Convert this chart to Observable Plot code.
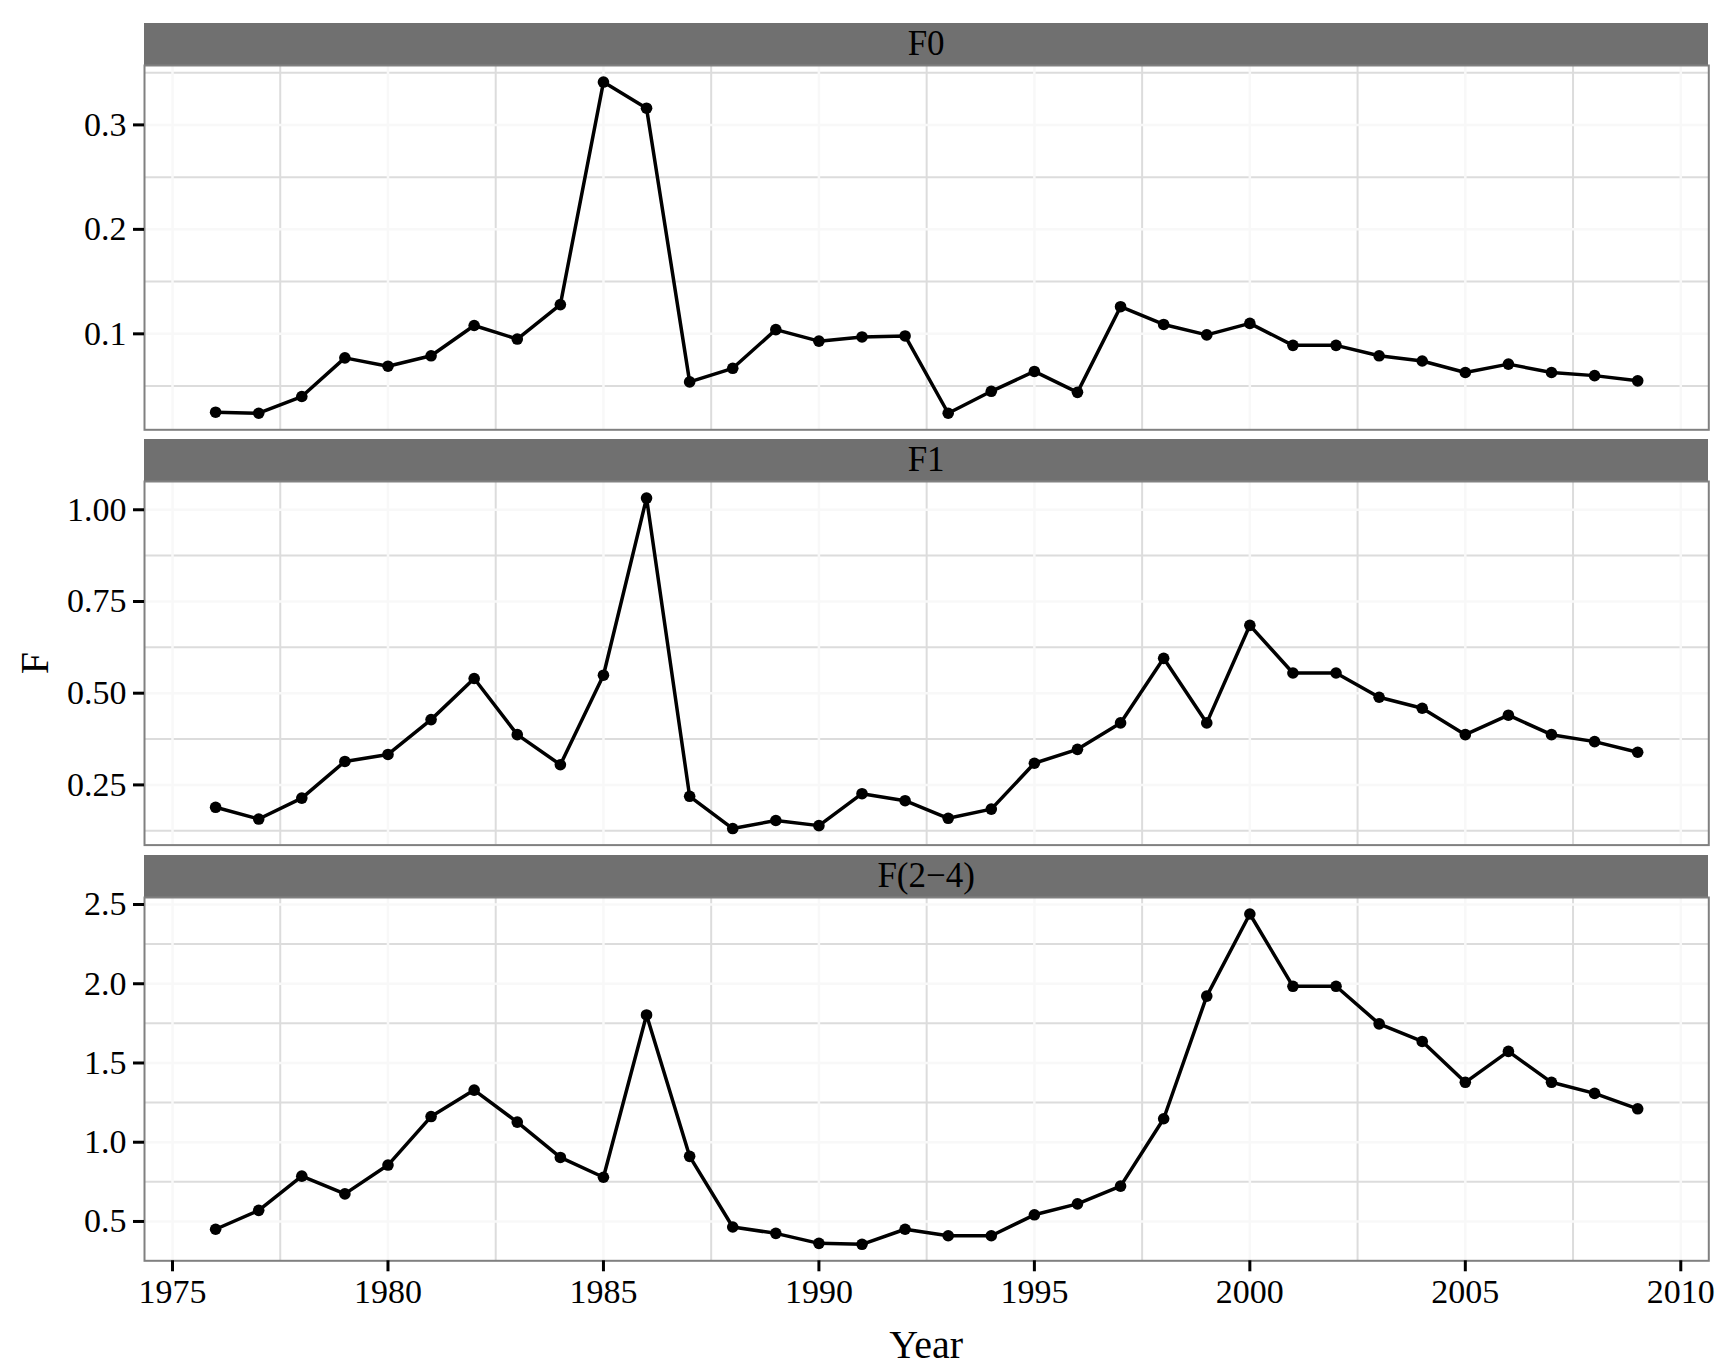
<!DOCTYPE html>
<html>
<head>
<meta charset="utf-8">
<script src="https://cdn.jsdelivr.net/npm/d3@7"></script>
<script src="https://cdn.jsdelivr.net/npm/@observablehq/plot@0.6"></script>
<style>
  html, body { margin: 0; padding: 0; background: #ffffff; }
  #root { position: relative; width: 1732px; height: 1371px; overflow: hidden; font-family: "Liberation Serif", "DejaVu Serif", serif; }
  .strip { position: absolute; background: #707070; color: #000; font-size: 35px; text-align: center; }
  .title { position: absolute; color: #000; white-space: nowrap; }
  svg { position: absolute; }
</style>
</head>
<body>
<div id="root"></div>
<script>
// ---- data ----
const years = [1976, 1977, 1978, 1979, 1980, 1981, 1982, 1983, 1984, 1985,
               1986, 1987, 1988, 1989, 1990, 1991, 1992, 1993, 1994, 1995,
               1996, 1997, 1998, 1999, 2000, 2001, 2002, 2003, 2004, 2005,
               2006, 2007, 2008, 2009];

const facetNames = ["F0", "F1", "F(2\u22124)"];

const f0 = [0.025, 0.024, 0.040, 0.077, 0.069, 0.079, 0.108, 0.095, 0.128, 0.341,
            0.316, 0.054, 0.067, 0.104, 0.093, 0.097, 0.098, 0.024, 0.045, 0.064,
            0.044, 0.126, 0.109, 0.099, 0.110, 0.089, 0.089, 0.079, 0.074, 0.063,
            0.071, 0.063, 0.060, 0.055];

const f1 = [0.189, 0.157, 0.214, 0.314, 0.333, 0.428, 0.540, 0.387, 0.305, 0.549,
            1.032, 0.219, 0.131, 0.153, 0.139, 0.226, 0.207, 0.159, 0.184, 0.309,
            0.347, 0.419, 0.595, 0.419, 0.685, 0.555, 0.555, 0.489, 0.459, 0.387,
            0.440, 0.387, 0.368, 0.339];

const f24 = [0.451, 0.570, 0.786, 0.674, 0.856, 1.162, 1.329, 1.127, 0.904, 0.779,
             1.803, 0.911, 0.465, 0.425, 0.362, 0.356, 0.451, 0.410, 0.410, 0.542,
             0.611, 0.723, 1.148, 1.922, 2.440, 1.984, 1.984, 1.747, 1.636, 1.378,
             1.573, 1.378, 1.308, 1.211];

const xTicks = [1975, 1980, 1985, 1990, 1995, 2000, 2005, 2010];
const xMinor = [1977.5, 1982.5, 1987.5, 1992.5, 1997.5, 2002.5, 2007.5];

const yTicks0 = [0.1, 0.2, 0.3];
const yMinor0 = [0.05, 0.15, 0.25, 0.35];
const yTicks1 = [0.25, 0.50, 0.75, 1.00];
const yMinor1 = [0.125, 0.375, 0.625, 0.875];
const yTicks2 = [0.5, 1.0, 1.5, 2.0, 2.5];
const yMinor2 = [0.75, 1.25, 1.75, 2.25];

const yFormats = [".1f", ".2f", ".1f"];

// ---- layout ----
const W = 1732, H = 1371;
const left = 144, right = 1708.3;
const stripH = 41.7;
const panelTop = [65, 480.7, 896.7];
const panelBottom = [429.3, 844.3, 1260];
const pad = 6;

const root = document.getElementById("root");

function expand(ext) {
  const r = ext[1] - ext[0];
  return [ext[0] - 0.05 * r, ext[1] + 0.05 * r];
}

const xDomain = expand(d3.extent(years));
const series = [f0, f1, f24];
const yTickSets = [yTicks0, yTicks1, yTicks2];
const yMinorSets = [yMinor0, yMinor1, yMinor2];

series.forEach((vals, i) => {
  const data = years.map((y, k) => ({year: y, value: vals[k]}));
  const isLast = i === series.length - 1;
  const mBottom = isLast ? (H - panelBottom[i]) : pad;
  const panelH = panelBottom[i] - panelTop[i];

  // strip
  const strip = document.createElement("div");
  strip.className = "strip";
  strip.style.left = left + "px";
  strip.style.top = (panelTop[i] - stripH) + "px";
  strip.style.width = (right - left) + "px";
  strip.style.height = stripH + "px";
  strip.style.lineHeight = stripH + "px";
  strip.textContent = facetNames[i];
  root.appendChild(strip);

  const marks = [
    Plot.ruleY(yMinorSets[i], {stroke: "#dcdcdc", strokeWidth: 2}),
    Plot.ruleX(xMinor, {stroke: "#dcdcdc", strokeWidth: 2}),
    Plot.ruleY(yTickSets[i], {stroke: "#f8f8f8", strokeWidth: 2.5}),
    Plot.ruleX(xTicks, {stroke: "#f8f8f8", strokeWidth: 2.5}),
    Plot.frame({stroke: "#808080", strokeWidth: 2}),
    Plot.axisY({ticks: yTickSets[i], tickFormat: d3.format(yFormats[i]), tickSize: 11, tickPadding: 7,
                fontSize: 34, label: null, strokeWidth: 3, color: "#000"}),
    Plot.line(data, {x: "year", y: "value", stroke: "#000", strokeWidth: 3.5}),
    Plot.dot(data, {x: "year", y: "value", fill: "#000", r: 5.8})
  ];
  if (isLast) {
    marks.push(Plot.axisX({ticks: xTicks, tickFormat: d3.format("d"), tickSize: 11, tickPadding: 7,
                           fontSize: 34, label: null, strokeWidth: 3, color: "#000"}));
  }

  const chart = Plot.plot({
    width: W,
    height: panelH + pad + mBottom,
    marginLeft: left,
    marginRight: W - right,
    marginTop: pad,
    marginBottom: mBottom,
    style: {fontFamily: "Liberation Serif", fontSize: "34px", color: "#000", background: "transparent", overflow: "visible"},
    x: {domain: xDomain, axis: null},
    y: {domain: expand(d3.extent(vals)), axis: null},
    marks
  });
  chart.style.left = "0px";
  chart.style.top = (panelTop[i] - pad) + "px";
  root.appendChild(chart);
});

// axis titles
const xt = document.createElement("div");
xt.className = "title";
xt.textContent = "Year";
xt.style.fontSize = "40px";
xt.style.left = ((left + right) / 2) + "px";
xt.style.top = "1321px";
xt.style.transform = "translateX(-50%)";
root.appendChild(xt);

const yt = document.createElement("div");
yt.className = "title";
yt.textContent = "F";
yt.style.fontSize = "40px";
yt.style.left = "34px";
yt.style.top = ((panelTop[0] + panelBottom[2]) / 2) + "px";
yt.style.transform = "translate(-50%, -50%) rotate(-90deg)";
root.appendChild(yt);
</script>
</body>
</html>
